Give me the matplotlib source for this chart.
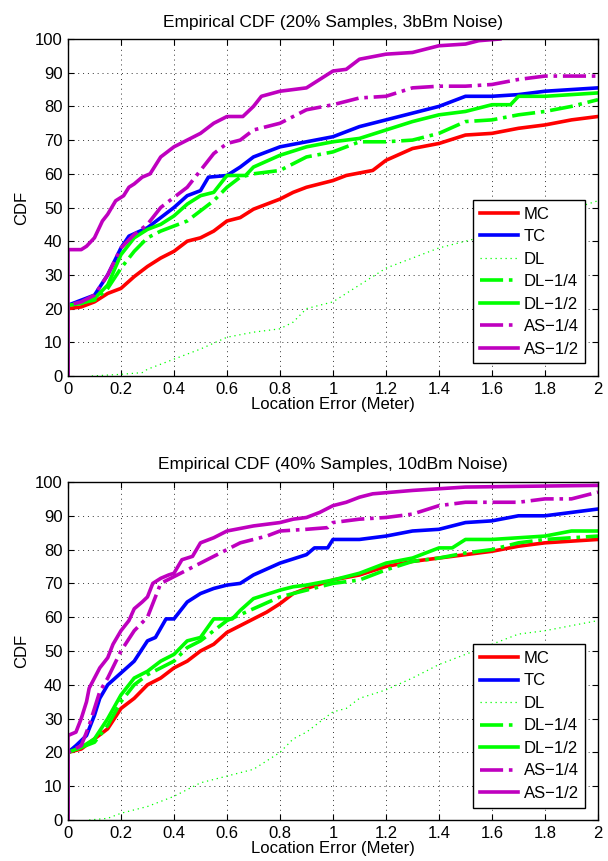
import matplotlib
matplotlib.use('Agg')
import matplotlib.pyplot as plt

plt.rcParams['font.family'] = ['Liberation Sans', 'DejaVu Sans']

LABELS = ['MC', 'TC', 'DL', 'DL\u22121/4', 'DL\u22121/2', 'AS\u22121/4', 'AS\u22121/2']
TITLES = ['Empirical CDF (20% Samples, 3bBm Noise)',
          'Empirical CDF (40% Samples, 10dBm Noise)']
XTICKS = [0, 0.2, 0.4, 0.6, 0.8, 1, 1.2, 1.4, 1.6, 1.8, 2]
XTICKLABELS = ['0', '0.2', '0.4', '0.6', '0.8', '1', '1.2', '1.4', '1.6', '1.8', '2']
YTICKS = list(range(0, 101, 10))

# --- panel 1: 20% samples, 3bBm noise  (x: error in m, y: CDF in %) ---
mc_20 = [(0, 0), (0, 20), (0.05, 20.5), (0.1, 22), (0.15, 24.5), (0.2, 26), (0.25, 29.5),
         (0.3, 32.5), (0.35, 35), (0.4, 37), (0.45, 40), (0.5, 41), (0.55, 43), (0.6, 46),
         (0.65, 47), (0.7, 49.5), (0.75, 51), (0.8, 52.5), (0.85, 54.5), (0.9, 56), (1.0, 58),
         (1.05, 59.5), (1.15, 61), (1.2, 64), (1.3, 67.5), (1.4, 69), (1.5, 71.5), (1.6, 72),
         (1.7, 73.5), (1.8, 74.5), (1.9, 76), (2.0, 77)]
tc_20 = [(0, 0), (0, 21), (0.05, 22.5), (0.1, 24), (0.15, 30), (0.2, 38), (0.23, 41.5),
         (0.3, 44), (0.35, 47), (0.4, 50), (0.45, 53.5), (0.5, 55), (0.53, 59), (0.6, 59.5),
         (0.65, 62), (0.7, 65), (0.8, 68), (0.9, 69.5), (1.0, 71), (1.1, 74), (1.2, 76),
         (1.3, 78), (1.4, 80), (1.5, 83), (1.6, 83), (1.7, 83.5), (1.8, 84.5), (2.0, 85.5)]
dl_20 = [(0.09, 0), (0.2, 0.5), (0.28, 1), (0.3, 2), (0.4, 5), (0.5, 8), (0.6, 11.5),
         (0.7, 13), (0.8, 14), (0.85, 16), (0.9, 20), (1.0, 22), (1.1, 27), (1.2, 32),
         (1.3, 35), (1.4, 38), (1.5, 40), (1.6, 42), (1.8, 47), (2.0, 52)]
dl14_20 = [(0, 0), (0, 21), (0.1, 22.5), (0.15, 26), (0.2, 32), (0.25, 37), (0.3, 41),
           (0.35, 43), (0.4, 44.5), (0.45, 46), (0.5, 49), (0.55, 52), (0.6, 56), (0.65, 59),
           (0.7, 60), (0.8, 61), (0.9, 65), (1.0, 66.5), (1.1, 69.5), (1.2, 69.5), (1.3, 70),
           (1.4, 72), (1.5, 75.5), (1.6, 76), (1.7, 77.5), (1.8, 78.5), (1.9, 80), (2.0, 82)]
dl12_20 = [(0, 0), (0, 21), (0.05, 21.5), (0.1, 23), (0.15, 27), (0.2, 36), (0.25, 41),
           (0.3, 43.5), (0.35, 45), (0.4, 47.5), (0.45, 51), (0.5, 53.5), (0.55, 54.5),
           (0.6, 59.5), (0.67, 59.5), (0.7, 62), (0.8, 65.5), (0.9, 68), (1.0, 69.5),
           (1.1, 70.5), (1.2, 73), (1.3, 75.5), (1.4, 77.5), (1.5, 78.5), (1.6, 80.5),
           (1.67, 80.5), (1.7, 83), (1.8, 83), (2.0, 84)]
as14_20 = [(0, 0), (0, 21), (0.05, 22), (0.1, 24), (0.15, 30), (0.2, 38), (0.25, 42),
           (0.3, 45), (0.35, 50), (0.4, 53), (0.45, 56), (0.5, 61), (0.55, 66), (0.6, 69),
           (0.65, 70), (0.7, 73), (0.75, 74), (0.8, 75), (0.85, 77), (0.9, 79), (1.0, 80.5),
           (1.1, 82.5), (1.2, 83), (1.3, 85.5), (1.4, 86), (1.5, 86), (1.6, 86.5), (1.7, 88),
           (1.8, 89), (2.0, 89)]
as12_20 = [(0, 0), (0, 37.5), (0.05, 37.5), (0.07, 38.5), (0.1, 41), (0.13, 46), (0.15, 48),
           (0.18, 52), (0.21, 53.5), (0.23, 56), (0.25, 57), (0.28, 59), (0.31, 60), (0.35, 65),
           (0.4, 68), (0.45, 70), (0.5, 72), (0.55, 75), (0.6, 77), (0.66, 77), (0.7, 80),
           (0.73, 83), (0.8, 84.5), (0.9, 85.5), (0.95, 88), (1.0, 90.5), (1.05, 91),
           (1.1, 94), (1.2, 95.5), (1.3, 96), (1.4, 98), (1.5, 98.5), (1.55, 99.5), (1.63, 100)]

# --- panel 2: 40% samples, 10dBm noise ---
mc_40 = [(0, 0), (0, 20), (0.05, 21), (0.1, 24), (0.15, 27), (0.2, 33), (0.25, 36),
         (0.3, 40), (0.35, 42), (0.4, 45), (0.45, 47), (0.5, 50), (0.55, 52), (0.6, 55.5),
         (0.65, 57.5), (0.7, 59.5), (0.75, 61.5), (0.8, 64), (0.85, 67), (0.9, 68.5),
         (1.0, 71), (1.1, 72.5), (1.2, 75), (1.3, 76.5), (1.4, 77.5), (1.5, 78.5), (1.6, 79.5),
         (1.7, 81), (1.8, 82), (1.9, 82.5), (2.0, 83)]
tc_40 = [(0, 0), (0, 20), (0.03, 22), (0.07, 25), (0.1, 31), (0.12, 36), (0.15, 40),
         (0.2, 43.5), (0.25, 47), (0.3, 53), (0.33, 54), (0.37, 59.5), (0.4, 59.5),
         (0.45, 64.5), (0.5, 67), (0.55, 68.5), (0.6, 69.5), (0.65, 70), (0.7, 72.5),
         (0.8, 76), (0.9, 78.5), (0.93, 80.5), (0.98, 80.5), (1.0, 83), (1.1, 83), (1.2, 84),
         (1.3, 85.5), (1.4, 86), (1.5, 88), (1.6, 88.5), (1.7, 90), (1.8, 90), (1.9, 91),
         (2.0, 92)]
dl_40 = [(0.08, 0), (0.15, 0.5), (0.2, 2), (0.3, 4), (0.4, 7), (0.5, 11), (0.6, 13),
         (0.7, 15), (0.8, 20), (0.85, 24), (0.9, 26), (1.0, 32), (1.05, 33), (1.1, 36),
         (1.2, 38.5), (1.3, 42), (1.4, 46), (1.5, 49), (1.6, 52), (1.7, 55), (1.8, 56),
         (1.9, 57.5), (2.0, 59)]
dl14_40 = [(0, 0), (0, 20), (0.1, 23), (0.15, 28), (0.2, 35), (0.25, 40), (0.3, 43),
           (0.35, 45), (0.4, 47), (0.45, 51), (0.5, 53), (0.55, 56), (0.6, 59), (0.7, 62.5),
           (0.8, 66), (0.9, 68), (1.0, 70), (1.1, 71), (1.2, 74), (1.3, 76.5), (1.4, 77.5),
           (1.5, 79), (1.6, 80), (1.7, 82), (1.8, 83), (2.0, 84)]
dl12_40 = [(0, 0), (0, 20), (0.05, 21.5), (0.1, 24), (0.15, 30), (0.2, 37), (0.25, 42),
           (0.3, 44), (0.35, 47), (0.4, 49), (0.45, 53), (0.5, 54), (0.55, 59.5), (0.62, 59.5),
           (0.65, 62), (0.7, 65.5), (0.8, 68), (0.85, 69), (0.9, 69.5), (1.0, 71), (1.1, 73),
           (1.2, 76), (1.3, 77.5), (1.4, 80.5), (1.45, 80.5), (1.5, 83), (1.6, 83),
           (1.7, 83.5), (1.8, 84), (1.9, 85.5), (2.0, 85.5)]
as14_40 = [(0, 0), (0, 20), (0.05, 22), (0.08, 28), (0.1, 33), (0.12, 38), (0.15, 42),
           (0.2, 50), (0.25, 56), (0.3, 60), (0.33, 66), (0.35, 70), (0.4, 72), (0.45, 74),
           (0.5, 76), (0.55, 78), (0.6, 80), (0.65, 82), (0.7, 83), (0.75, 84), (0.8, 85.5),
           (0.9, 86), (0.98, 86.5), (1.0, 88), (1.1, 89), (1.2, 89.5), (1.3, 90.5), (1.4, 93),
           (1.5, 94), (1.7, 94), (1.8, 95), (1.9, 95), (2.0, 97)]
as12_40 = [(0, 0), (0, 25), (0.03, 26), (0.05, 30), (0.07, 35), (0.08, 39), (0.1, 42),
           (0.12, 45), (0.15, 48), (0.17, 52), (0.2, 56), (0.23, 59), (0.25, 62.5), (0.28, 64.5),
           (0.3, 66), (0.32, 70), (0.35, 71.5), (0.38, 72.5), (0.4, 73), (0.43, 77), (0.47, 78),
           (0.5, 82), (0.55, 83.5), (0.6, 85.5), (0.7, 87), (0.8, 88), (0.85, 89), (0.9, 89.5),
           (0.95, 91), (1.0, 93), (1.05, 94), (1.1, 95.5), (1.15, 96.5), (1.3, 97.5),
           (1.5, 98.5), (2.0, 99)]

PANELS = [[mc_20, tc_20, dl_20, dl14_20, dl12_20, as14_20, as12_20],
          [mc_40, tc_40, dl_40, dl14_40, dl12_40, as14_40, as12_40]]

MAG = '#bf00bf'
STYLES = [dict(color='#ff0000', ls='-', lw=2.6),
          dict(color='#0000ff', ls='-', lw=2.6),
          dict(color='#00ff00', ls=(0, (1, 3)), lw=0.9),
          dict(color='#00ff00', ls='-.', lw=2.6),
          dict(color='#00ff00', ls='-', lw=2.6),
          dict(color=MAG, ls='-.', lw=2.6),
          dict(color=MAG, ls='-', lw=2.6)]

fig = plt.figure(figsize=(6.08, 8.61), dpi=100)
positions = [[0.1118, 0.5633, 0.8717, 0.3914],
             [0.1118, 0.0476, 0.8717, 0.3926]]

for pos, title, series in zip(positions, TITLES, PANELS):
    ax = fig.add_axes(pos)
    for pts, lab, st in zip(series, LABELS, STYLES):
        xs = [p[0] for p in pts]
        ys = [p[1] for p in pts]
        ax.plot(xs, ys, label=lab, **st)
    ax.set_xlim(0, 2)
    ax.set_ylim(0, 100)
    ax.set_xticks(XTICKS)
    ax.set_xticklabels(XTICKLABELS)
    ax.set_yticks(YTICKS)
    ax.tick_params(direction='in', top=True, right=True, length=4, labelsize=12, pad=4)
    ax.grid(True, ls=(0, (1, 4)), color='#333333', lw=0.7)
    for sp in ax.spines.values():
        sp.set_linewidth(1.0)
    ax.set_title(title, fontsize=12.5, pad=9)
    ax.set_xlabel('Location Error (Meter)', fontsize=12, labelpad=0)
    ax.set_ylabel('CDF', fontsize=12, labelpad=4)
    leg = ax.legend(loc='lower right', fontsize=12, fancybox=False, framealpha=1,
                    edgecolor='black', handlelength=2.3, borderaxespad=0.75,
                    labelspacing=0.45, handletextpad=0.35, borderpad=0.4)
    leg.get_frame().set_linewidth(1.0)

fig.savefig('out.png', dpi=100)
